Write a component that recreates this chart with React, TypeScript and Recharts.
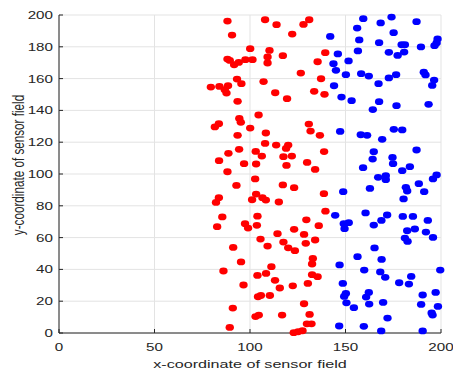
import React from "react";
import { ScatterChart, Scatter, XAxis, YAxis, CartesianGrid, Label } from "recharts";

// Sensor node positions (x, y) in the 200 x 200 field
const redNodes: [number, number][] = [
  [88.2, 196.2], [107.9, 197.0], [113.9, 193.9], [131.0, 197.0], [128.0, 194.1], [90.6, 187.4], [122.1, 188.0],
  [100.1, 178.8], [110.2, 177.7], [88.2, 172.3], [89.4, 171.4], [91.7, 168.7], [94.1, 170.2], [97.6, 171.9],
  [101.3, 171.9], [109.2, 173.6], [109.2, 169.8], [117.2, 174.4], [139.4, 176.3], [135.4, 170.6], [126.6, 163.5],
  [93.2, 159.7], [95.5, 156.8], [107.1, 158.1], [79.5, 154.7], [84.0, 155.1], [88.5, 155.5], [86.8, 153.0],
  [87.7, 150.9], [113.2, 151.1], [119.4, 147.4], [133.6, 152.0], [137.2, 159.9], [93.5, 145.7], [139.0, 150.1],
  [94.4, 134.9], [104.5, 137.1], [83.7, 131.6], [81.6, 129.6], [95.2, 132.5], [100.1, 128.9], [93.5, 124.3],
  [108.3, 125.8], [130.8, 131.4], [131.7, 127.0], [136.6, 124.3], [107.9, 119.2], [113.7, 118.2], [120.0, 118.2],
  [118.9, 116.1], [94.3, 115.5], [88.7, 113.0], [103.0, 114.2], [106.2, 111.3], [117.5, 110.9], [121.9, 111.3],
  [83.8, 108.4], [96.9, 106.5], [103.2, 106.3], [129.9, 107.3], [119.1, 105.4], [134.1, 102.9], [88.2, 101.4],
  [102.7, 96.9], [92.9, 92.8], [117.2, 93.1], [123.1, 91.4], [103.2, 87.4], [101.1, 83.8], [106.5, 85.1],
  [108.3, 83.6], [115.1, 82.4], [83.7, 85.1], [82.2, 82.1], [138.8, 114.1], [138.7, 87.6], [85.5, 73.0],
  [103.9, 73.5], [129.5, 71.2], [139.5, 76.6],
  [82.8, 66.9], [97.4, 68.7], [99.0, 66.0], [103.6, 67.7], [123.1, 65.2], [136.0, 67.5], [128.3, 62.0],
  [114.4, 62.5], [105.5, 59.1], [134.1, 58.5], [129.2, 56.4], [117.5, 57.2], [109.2, 54.7], [120.0, 53.6],
  [123.5, 51.8], [91.2, 53.8], [132.9, 46.9], [132.5, 43.4], [95.3, 44.7], [111.2, 41.7], [86.1, 39.0],
  [103.9, 36.2], [108.4, 37.5], [113.1, 33.1], [132.5, 36.7], [135.4, 35.4], [96.6, 30.2], [115.6, 28.3],
  [122.4, 29.7], [130.3, 31.2], [104.2, 22.8], [105.7, 23.6], [110.4, 23.6], [128.3, 18.4], [91.0, 15.7],
  [102.9, 10.3], [104.6, 11.3], [116.8, 11.3], [131.2, 11.7], [129.8, 5.8], [132.2, 5.8], [89.4, 3.5],
  [122.9, 0.2], [125.2, 0.8], [127.5, 1.4],
];

const blueNodes: [number, number][] = [
  [159.3, 197.7], [168.4, 195.0], [174.1, 198.7], [187.2, 195.8], [156.1, 191.8], [175.2, 188.9], [142.0, 186.5],
  [157.2, 184.3], [167.6, 182.6], [179.4, 181.3], [181.1, 181.3], [189.5, 179.9], [198.2, 184.9], [197.7, 182.4],
  [196.6, 180.7], [156.5, 177.4], [172.7, 176.5], [177.3, 174.6], [180.7, 176.7], [146.0, 175.5], [151.6, 171.1],
  [143.7, 169.4], [145.0, 165.2], [150.2, 162.5], [158.2, 163.1], [162.2, 161.6], [172.7, 160.4], [176.5, 162.5],
  [191.0, 164.0], [191.9, 162.3], [196.4, 159.1], [195.4, 155.7], [167.3, 156.8], [144.0, 155.5], [147.9, 148.4],
  [153.2, 146.1], [167.6, 145.5], [176.7, 143.0], [193.5, 143.8], [164.3, 140.5],
  [147.2, 126.8], [158.0, 124.7], [161.3, 124.3], [169.2, 121.8], [175.3, 128.1], [179.7, 127.7], [164.8, 114.0],
  [164.2, 109.4], [187.2, 115.1], [174.6, 110.4], [174.9, 106.5], [159.2, 104.0], [183.7, 104.6], [179.7, 102.1],
  [167.1, 97.9], [171.1, 98.9], [171.1, 96.4], [197.7, 99.4], [195.8, 96.9], [188.4, 93.9], [162.8, 90.9],
  [181.6, 91.6], [182.3, 89.3], [148.8, 88.9], [191.2, 88.9], [180.4, 84.3],
  [144.6, 74.0], [160.5, 75.5], [171.8, 74.2], [180.0, 73.3], [185.3, 73.3], [193.1, 70.8], [149.1, 68.7],
  [151.7, 69.4], [149.5, 65.6], [164.8, 67.9], [168.8, 70.8], [182.3, 64.3], [186.3, 65.4], [192.1, 63.5],
  [195.8, 60.1], [181.1, 59.7], [182.5, 57.6], [165.2, 53.5], [156.3, 48.0], [168.9, 46.3], [146.9, 42.8],
  [159.8, 39.6], [168.2, 38.4], [170.8, 35.0], [184.4, 35.6], [199.6, 39.6], [148.6, 31.2], [178.1, 31.6],
  [183.2, 30.8], [150.2, 24.9], [149.3, 23.0], [162.2, 25.5], [160.8, 22.6], [190.4, 23.9], [197.2, 25.5],
  [150.5, 19.0], [162.4, 18.2], [169.7, 19.2], [189.6, 18.0], [198.4, 16.7], [154.4, 15.9], [195.1, 12.6],
  [195.6, 11.3], [172.0, 9.4], [146.7, 4.4], [159.6, 4.2], [168.7, 1.3], [190.4, 1.3],
];

const xTicks = [0, 50, 100, 150, 200];
const yTicks = [0, 20, 40, 60, 80, 100, 120, 140, 160, 180, 200];

const xTitle = "x-coordinate of sensor field";
const yTitle = "y-coordinate of sensor field";

const FONT = "'Liberation Sans', Arial, sans-serif";
const INK = "#262626";
const STRETCH = 1.38;
const TICK_LEN = 4;

const toPoints = (pairs: [number, number][]) => pairs.map(([x, y]) => ({ x, y }));

const Dot = (color: string) => (props: any) => {
  const { cx, cy } = props;
  if (cx == null || cy == null) return null;
  return <ellipse cx={cx} cy={cy} rx={4.2} ry={3.4} fill={color} />;
};

const XTick = (props: any) => {
  const { x, y, payload } = props;
  return (
    <g>
      <line x1={x} x2={x} y1={y} y2={y - TICK_LEN} stroke={INK} strokeWidth={1} />
      <text
        transform={`translate(${x},${y + 18}) scale(${STRETCH},1)`}
        textAnchor="middle"
        fontSize={11}
        fontFamily={FONT}
        fill={INK}
      >
        {payload.value}
      </text>
    </g>
  );
};

const YTick = (props: any) => {
  const { x, y, payload } = props;
  return (
    <g>
      <line x1={x} x2={x + TICK_LEN} y1={y} y2={y} stroke={INK} strokeWidth={1} />
      <text
        transform={`translate(${x - 6},${y + 4}) scale(${STRETCH},1)`}
        textAnchor="end"
        fontSize={11}
        fontFamily={FONT}
        fill={INK}
      >
        {payload.value}
      </text>
    </g>
  );
};

const XTitle = (props: any) => {
  const vb = props.viewBox || {};
  const cx = vb.x + vb.width / 2;
  const by = vb.y + 35;
  return (
    <text
      transform={`translate(${cx},${by}) scale(${STRETCH},1)`}
      textAnchor="middle"
      fontSize={11.7}
      fontFamily={FONT}
      fill={INK}
    >
      {xTitle}
    </text>
  );
};

const YTitle = (props: any) => {
  const vb = props.viewBox || {};
  const cx = vb.x - 1;
  const cy = vb.y + vb.height / 2 - 9;
  return (
    <text
      transform={`translate(${cx},${cy}) rotate(-90) scale(1,${STRETCH})`}
      textAnchor="middle"
      dominantBaseline="central"
      fontSize={11.7}
      fontFamily={FONT}
      fill={INK}
    >
      {yTitle}
    </text>
  );
};

export default function App() {
  return (
    <div style={{ width: 453, height: 373, overflow: "hidden" }}>
      <style>{`html, body { margin: 0; padding: 0; overflow: hidden; background: #ffffff; }`}</style>
      <ScatterChart
        width={453}
        height={373}
        margin={{ top: 15, right: 12, bottom: 10, left: 19 }}
      >
        <CartesianGrid stroke="#e3e3e3" strokeWidth={1} />
        <XAxis
          type="number"
          dataKey="x"
          domain={[0, 200]}
          ticks={xTicks}
          height={30}
          tickSize={0}
          tickMargin={0}
          tickLine={false}
          axisLine={{ stroke: INK, strokeWidth: 1 }}
          tick={<XTick />}
          interval={0}
        >
          <Label content={<XTitle />} />
        </XAxis>
        <YAxis
          type="number"
          dataKey="y"
          domain={[0, 200]}
          ticks={yTicks}
          width={40}
          tickSize={0}
          tickMargin={0}
          tickLine={false}
          axisLine={{ stroke: INK, strokeWidth: 1 }}
          tick={<YTick />}
          interval={0}
        >
          <Label content={<YTitle />} />
        </YAxis>
        <Scatter data={toPoints(redNodes)} fill="#ff0000" shape={Dot("#ff0000")} isAnimationActive={false} />
        <Scatter data={toPoints(blueNodes)} fill="#0000ff" shape={Dot("#0000ff")} isAnimationActive={false} />
      </ScatterChart>
    </div>
  );
}
